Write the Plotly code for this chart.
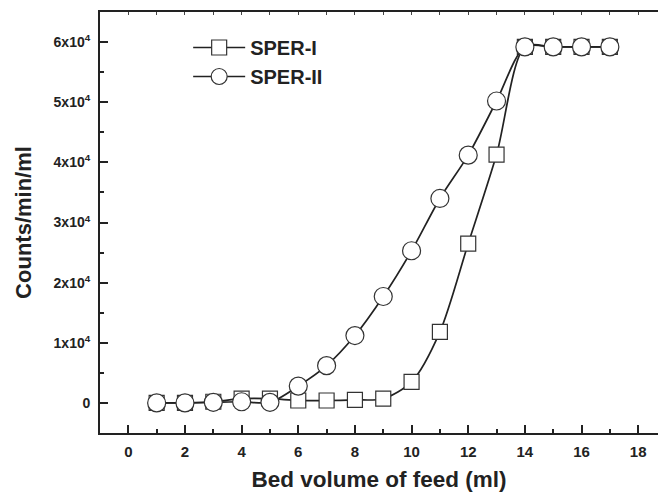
import plotly.graph_objects as go

bed_volume = [1, 2, 3, 4, 5, 6, 7, 8, 9, 10, 11, 12, 13, 14, 15, 16, 17]
sper_i = [0, 0, 200, 700, 700, 400, 400, 500, 700, 3500, 11800, 26500, 41300, 59200, 59200, 59200, 59200]
sper_ii = [0, 0, 100, 200, 100, 2800, 6200, 11200, 17700, 25300, 34000, 41200, 50200, 59200, 59200, 59200, 59200]

y_tickvals = [0, 10000, 20000, 30000, 40000, 50000, 60000]
y_ticktext = ["<b>0</b>", "<b>1x10<sup>4</sup></b>", "<b>2x10<sup>4</sup></b>", "<b>3x10<sup>4</sup></b>",
              "<b>4x10<sup>4</sup></b>", "<b>5x10<sup>4</sup></b>", "<b>6x10<sup>4</sup></b>"]

FONT = "Liberation Sans, Arial, sans-serif"
line_col = "#222222"

fig = go.Figure()
fig.add_trace(go.Scatter(
    x=bed_volume, y=sper_i, name="<b>SPER-I</b>", mode="lines+markers",
    line=dict(color=line_col, width=1.7, shape="spline", smoothing=0.8),
    marker=dict(symbol="square", size=15, color="white", line=dict(color="#333333", width=1.2)),
))
fig.add_trace(go.Scatter(
    x=bed_volume, y=sper_ii, name="<b>SPER-II</b>", mode="lines+markers",
    line=dict(color=line_col, width=1.7, shape="spline", smoothing=0.8),
    marker=dict(symbol="circle", size=18, color="white", line=dict(color="#333333", width=1.2)),
))
# dummy trace to carry the top axis
fig.add_trace(go.Scatter(x=[None], y=[None], xaxis="x2", showlegend=False, hoverinfo="skip"))

fig.update_layout(
    width=658, height=495,
    margin=dict(l=100, r=0, t=12, b=62),
    paper_bgcolor="white", plot_bgcolor="white",
    font=dict(family=FONT, color="#222222"),
    showlegend=True,
    legend=dict(x=0.158, y=0.962, xanchor="left", yanchor="top",
                bgcolor="rgba(0,0,0,0)", font=dict(size=20, family=FONT, color="#222222"),
                itemwidth=52),
    xaxis=dict(
        range=[-1, 18.7], tickmode="linear", tick0=0, dtick=2,
        ticks="inside", ticklen=8, tickwidth=1.5, tickcolor="#222222",
        minor=dict(ticks="inside", ticklen=4, tickwidth=1.5, dtick=1, tick0=0, tickcolor="#222222"),
        showline=True, linecolor="#222222", linewidth=2, showgrid=False, zeroline=False,
        tickfont=dict(size=15, family=FONT, color="#222222", weight="bold"),
        ticklabelstandoff=4,
        title=dict(text="<b>Bed volume of feed (ml)</b>", font=dict(size=22.5, family=FONT, color="#222222"), standoff=12),
    ),
    xaxis2=dict(
        overlaying="x", side="top", range=[-1, 18.7], tickmode="linear", tick0=0, dtick=1,
        ticks="inside", ticklen=3, tickwidth=1, tickcolor="#444444",
        showticklabels=False, showline=True, linecolor="#222222", linewidth=2,
        showgrid=False, zeroline=False,
    ),
    yaxis=dict(
        range=[-5000, 65000], tickmode="array", tickvals=y_tickvals, ticktext=y_ticktext,
        ticks="inside", ticklen=8, tickwidth=1.5, tickcolor="#222222",
        minor=dict(ticks="inside", ticklen=4, tickwidth=1.5, tickmode="array",
                   tickvals=[-5000, 5000, 15000, 25000, 35000, 45000, 55000, 65000], tickcolor="#222222"),
        showline=True, linecolor="#222222", linewidth=2, showgrid=False, zeroline=False,
        tickfont=dict(size=14, family=FONT, color="#222222"),
        ticklabelstandoff=5,
        title=dict(text="<b>Counts/min/ml</b>", font=dict(size=22, family=FONT, color="#222222"), standoff=16),
    ),
)

fig.write_html("out.html")
